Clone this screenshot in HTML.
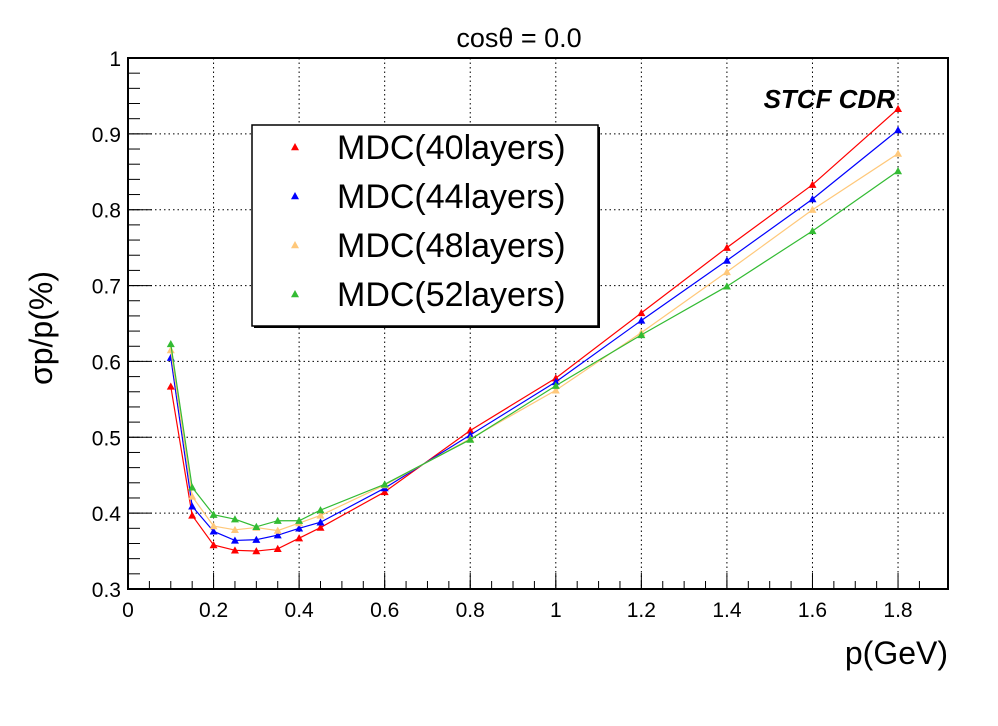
<!DOCTYPE html>
<html><head><meta charset="utf-8"><style>
body{margin:0;background:#fff;}
svg{display:block;font-family:"Liberation Sans",sans-serif;}
</style></head><body>
<svg id="chart" width="998" height="726">
<rect width="998" height="726" fill="#fff"/>
<g id="grid"></g><g id="axes"></g><g id="series"></g>
<text x="519" y="47" font-size="27" text-anchor="middle">cosθ = 0.0</text>
<text x="895" y="108" font-size="26" font-weight="bold" font-style="italic" text-anchor="end">STCF CDR</text>
<text x="948" y="664" font-size="32" text-anchor="end">p(GeV)</text>
<text transform="translate(52,328) rotate(-90)" font-size="32" text-anchor="middle">σp/p(%)</text>
<g>
<rect x="252" y="125" width="346" height="201" fill="#fff" stroke="#000" stroke-width="1.5"/>
<rect x="598" y="127" width="2" height="201" fill="#000"/><rect x="254" y="326" width="346" height="2" fill="#000"/>
<g id="legend-entries"></g>
</g>
</svg>
<script>
const pValues=[0.1,0.15,0.2,0.25,0.3,0.35,0.4,0.45,0.6,0.8,1.0,1.2,1.4,1.6,1.8];
const mdc40=[0.567,0.397,0.358,0.351,0.350,0.353,0.367,0.381,0.428,0.509,0.578,0.664,0.750,0.833,0.933];
const mdc44=[0.605,0.409,0.376,0.364,0.365,0.371,0.380,0.388,0.433,0.503,0.573,0.654,0.733,0.814,0.905];
const mdc48=[0.615,0.422,0.383,0.378,0.381,0.377,0.387,0.397,0.437,0.498,0.562,0.638,0.718,0.800,0.874];
const mdc52=[0.623,0.434,0.398,0.392,0.382,0.390,0.390,0.404,0.438,0.497,0.568,0.635,0.699,0.772,0.851];
const seriesNames=["MDC(40layers)","MDC(44layers)","MDC(48layers)","MDC(52layers)"];
const xTicks=[0,0.2,0.4,0.6,0.8,1,1.2,1.4,1.6,1.8];
const xTickLabels=["0","0.2","0.4","0.6","0.8","1","1.2","1.4","1.6","1.8"];
const yTicks=[0.3,0.4,0.5,0.6,0.7,0.8,0.9,1];
const yTickLabels=["0.3","0.4","0.5","0.6","0.7","0.8","0.9","1"];
const colors=["#ff0000","#0000ff","#ffc87a","#33bb33"];
const NS="http://www.w3.org/2000/svg";
const L=128,R=948,T=58,B=589,xMax=1.9168;
const sx=v=>L+v/xMax*(R-L), sy=v=>B-(v-0.3)/0.7*(B-T);
function mk(tag,attrs,parent){const e=document.createElementNS(NS,tag);for(const k in attrs)e.setAttribute(k,attrs[k]);parent.appendChild(e);return e;}
const grid=document.getElementById('grid'),axes=document.getElementById('axes'),ser=document.getElementById('series');
xTicks.forEach((t,i)=>{
 const x=sx(t);
 if(t>0){const g=mk('line',{x1:x,x2:x,y1:T,y2:B,stroke:'#000','stroke-width':1,'stroke-dasharray':'1.5,3'},grid);
 
 }
 mk('line',{x1:x,x2:x,y1:B,y2:B-16,stroke:'#000','stroke-width':1},axes);
 const tx=mk('text',{x:x,y:B+28,'font-size':21,'text-anchor':'middle'},axes);tx.textContent=xTickLabels[i];
 
 
});
for(let v=0;v<=1.9;v+=0.05){const x=sx(v);mk('line',{x1:x,x2:x,y1:B,y2:B-8,stroke:'#000'},axes);}
yTicks.forEach((t,i)=>{
 const y=sy(t);
 if(t>0.3&&t<1){const g=mk('line',{x1:L,x2:R,y1:y,y2:y,stroke:'#000','stroke-width':1,'stroke-dasharray':'1.5,3'},grid);
 
 }
 mk('line',{x1:L,x2:L+24,y1:y,y2:y,stroke:'#000'},axes);
 const tx=mk('text',{x:L-7,y:y+8,'font-size':21,'text-anchor':'end'},axes);tx.textContent=yTickLabels[i];
 
 
});
for(let v=0.3;v<=1.0001;v+=0.02){const y=sy(v);mk('line',{x1:L,x2:L+12,y1:y,y2:y,stroke:'#000'},axes);}
const fr=mk('rect',{x:L,y:T,width:R-L,height:B-T,fill:'none',stroke:'#000','stroke-width':2},axes);


const data=[mdc40,mdc44,mdc48,mdc52];
function tri(x,y,s){return `${x},${y-s} ${x-s},${y+s*0.8} ${x+s},${y+s*0.8}`;}
data.forEach((vals,si)=>{
 const g=mk('g',{},ser);
 
 
 mk('polyline',{points:vals.map((v,i)=>sx(pValues[i])+','+sy(v)).join(' '),fill:'none',stroke:colors[si],'stroke-width':1.2},g);
 vals.forEach((v,i)=>{const p=mk('polygon',{points:tri(sx(pValues[i]),sy(v),4),fill:colors[si]},g);
 
 });
});
const le=document.getElementById('legend-entries');
seriesNames.forEach((n,i)=>{
 const y=147+i*49;
 mk('polygon',{points:tri(295,y,4),fill:colors[i]},le);
 const t=mk('text',{x:337,y:y+12,'font-size':34},le);t.textContent=n;
 
 
});
</script>
</body></html>
